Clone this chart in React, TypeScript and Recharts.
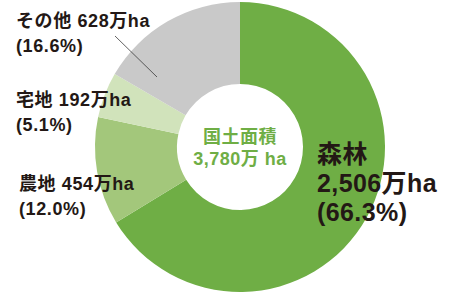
import React from 'react';
import { PieChart, Pie, Cell } from 'recharts';

const categories = ['森林', '農地', '宅地', 'その他'];
const areas = [2506, 454, 192, 628]; // 万ha
const shares = ['66.3', '12.0', '5.1', '16.6'];
const colors = ['#6fae45', '#a3c77b', '#d1e3bb', '#c9c9c9'];
const totalLabel = '3,780万 ha';

const data = categories.map((name, i) => ({ name, value: areas[i] }));

const font = '"Liberation Sans", "Noto Sans CJK JP", sans-serif';
const ink = '#231815';

const fmt = (n: number) => n.toLocaleString('en-US');

const SmallLabel: React.FC<{ idx: number; left: number; top: number }> = ({ idx, left, top }) => (
    <div style={{ position: 'absolute', left, top, fontSize: 18, fontWeight: 700, lineHeight: '25px', letterSpacing: 0.6, color: ink, whiteSpace: 'nowrap' }}>
        <div>{categories[idx]} {areas[idx]}万ha</div>
        <div>({shares[idx]}%)</div>
    </div>
);

export default function App() {
    return (
        <div style={{ position: 'absolute', left: 0, top: 0, width: 450, height: 297, background: '#fff', fontFamily: font }}>
            <PieChart width={450} height={297} margin={{ top: 0, right: 0, bottom: 0, left: 0 }}>
                <Pie
                    data={data}
                    dataKey="value"
                    cx={240}
                    cy={147}
                    innerRadius={63}
                    outerRadius={145}
                    startAngle={90}
                    endAngle={-270}
                    stroke="none"
                    isAnimationActive={false}
                >
                    {data.map((d, i) => (
                        <Cell key={d.name} fill={colors[i]} />
                    ))}
                </Pie>
            </PieChart>

            {/* leader line for その他 */}
            <svg style={{ position: 'absolute', left: 0, top: 0 }} width={450} height={297}>
                <line x1={115} y1={36} x2={157} y2={77} stroke="#3a3a3a" strokeWidth={0.8} />
            </svg>

            {/* centre total */}
            <div style={{ position: 'absolute', left: 175, top: 126, width: 130, textAlign: 'center', color: '#6fae45', fontWeight: 700, fontSize: 18, lineHeight: '22px', letterSpacing: 0.5 }}>
                <div>国土面積</div>
                <div>{totalLabel}</div>
            </div>

            {/* 森林 */}
            <div style={{ position: 'absolute', left: 317, top: 140, color: ink, fontWeight: 700, fontSize: 25, lineHeight: '29px', letterSpacing: 0.4, whiteSpace: 'nowrap' }}>
                <div>{categories[0]}</div>
                <div>{fmt(areas[0])}万ha</div>
                <div>({shares[0]}%)</div>
            </div>

            <SmallLabel idx={3} left={16} top={9} />
            <SmallLabel idx={2} left={16} top={88} />
            <SmallLabel idx={1} left={19} top={172} />
        </div>
    );
}
